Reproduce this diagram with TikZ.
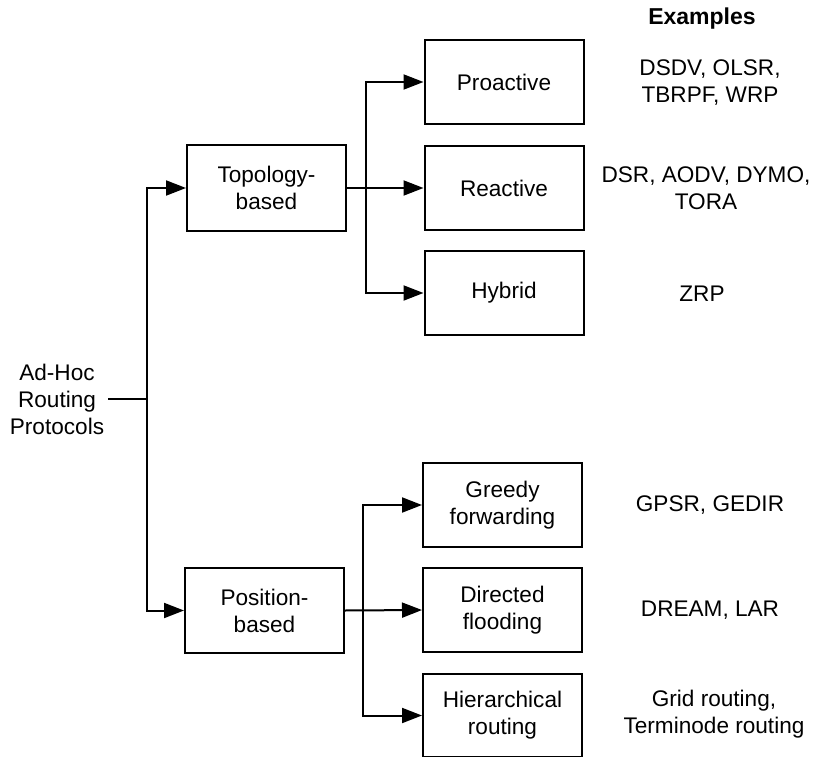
\documentclass[tikz,border=0pt]{standalone}
\usepackage{fontspec}
\setmainfont{Liberation Sans}
\usetikzlibrary{arrows.meta}
\begin{document}
\begin{tikzpicture}[x=1pt,y=-1pt,
  every node/.style={font=\fontsize{22.6}{27}\selectfont, align=center, inner sep=2pt},
  catbox/.style={draw, line width=2pt, minimum width=159pt, minimum height=85pt},
  link/.style={line width=2pt},
  arr/.style={link, -{Triangle[length=20pt,width=15pt]}}]
  \useasboundingbox (0,0) rectangle (814,757);

  % root label
  \node (root) at (57,399) {Ad-Hoc\\Routing\\Protocols};

  % first-level categories
  \node[catbox] (topo) at (266.5,188) {Topology-\\based};
  \node[catbox] (pos)  at (264.5,610.5) {Position-\\based};

  % topology-based subclasses
  \node[catbox, minimum height=84pt] (pro) at (504,82) {Proactive};
  \node[catbox, minimum height=84pt] (rea) at (504,188) {Reactive};
  \node[catbox, minimum height=84pt] (hyb) at (504,293) {Hybrid};

  % position-based subclasses
  \node[catbox, minimum height=84pt] (gre) at (502.5,505) {Greedy\\forwarding};
  \node[catbox, minimum height=84pt] (dir) at (502.5,610) {Directed\\flooding};
  \node[catbox, minimum height=83pt] (hie) at (502.5,715.5) {Hierarchical\\routing};

  % examples column
  \node[font=\bfseries\fontsize{23}{27}\selectfont] (exh) at (702,19) {Examples};
  \node (ex1) at (710,83) {DSDV, OLSR,\\TBRPF, WRP};
  \node (ex2) at (706,188) {DSR, AODV, DYMO,\\TORA};
  \node (ex3) at (702,294) {ZRP};
  \node (ex4) at (710,505) {GPSR, GEDIR};
  \node (ex5) at (710,610) {DREAM, LAR};
  \node (ex6) at (714,714) {Grid routing,\\Terminode routing};

  % connectors
  \coordinate (bus) at (147,399);
  \coordinate (tb) at (366,188);
  \coordinate (pb) at (363,610.5);
  \draw[link] ([xshift=2pt]root.east) -- (bus);
  \draw[arr] (bus) |- (topo.west);
  \draw[arr] (bus) |- (pos.west);

  \draw[arr] (topo.east) -- (rea.west);
  \draw[arr] (tb) |- (pro.west);
  \draw[arr] (tb) |- (hyb.west);

  \draw[arr] (pos.east) -- (dir.west);
  \draw[arr] (pb) |- (gre.west);
  \draw[arr] (pb) |- (hie.west);
\end{tikzpicture}
\end{document}
